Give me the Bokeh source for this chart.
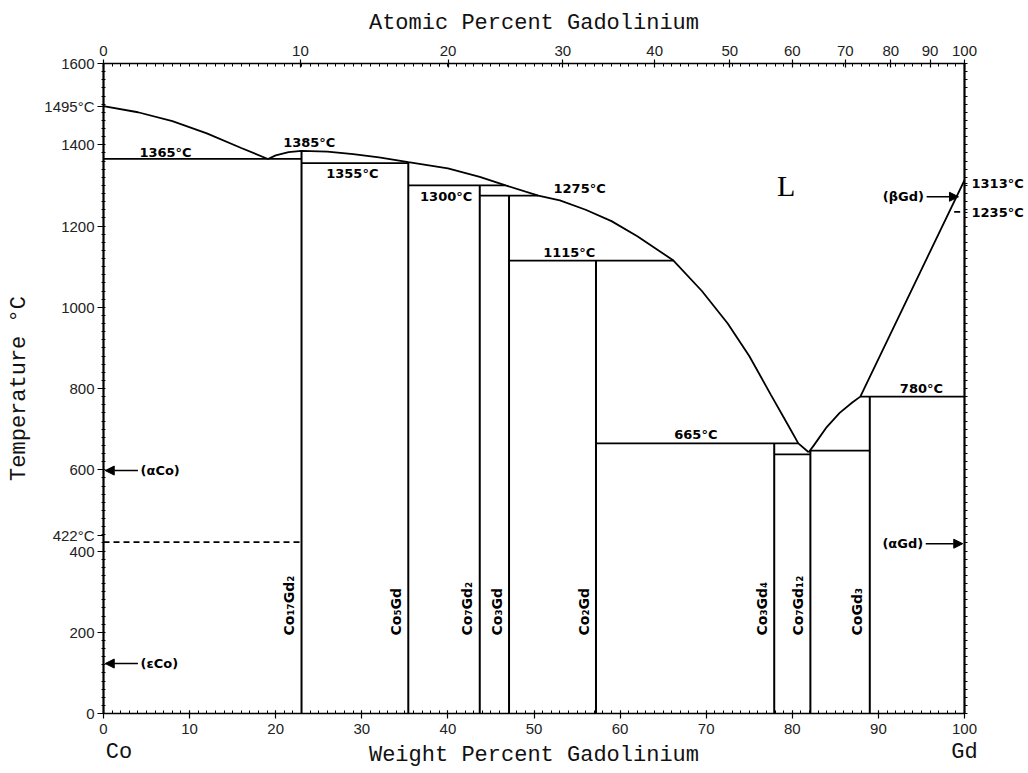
import math
from bokeh.plotting import figure
from bokeh.models import (Range1d, LinearAxis, FixedTicker, Label, LabelSet,
                          Arrow, NormalHead, ColumnDataSource)
from bokeh.embed import file_html
from bokeh.resources import INLINE
from bokeh.core.properties import value

# ---------------- data (wt% Gd, temperature in deg C) ----------------
liq_co_x = [0, 4, 8, 12, 16, 19.1]
liq_co_t = [1495, 1480, 1458, 1428, 1392, 1365]

liq_mid_x = [19.1, 20, 21.5, 23, 26, 29, 32, 35.4, 40, 43.7, 46.7, 50.5, 53, 56, 59,
             62, 66.2, 69.5, 72.5, 75, 77.5, 79.5, 80.7, 81.9]
liq_mid_t = [1365, 1374, 1382, 1385, 1383, 1377, 1369, 1357, 1342, 1321, 1300, 1275,
             1263, 1240, 1212, 1175, 1115, 1040, 960, 880, 785, 710, 665, 643]

liq_gd_x = [81.9, 82.5, 84, 85.5, 87, 87.9, 100]
liq_gd_t = [643, 660, 705, 740, 766, 780, 1313]

iso_t = [1365, 1355, 1300, 1275, 1115, 665, 638, 647, 780]
iso_x0 = [0, 23.0, 35.4, 43.7, 47.1, 57.2, 77.9, 82.1, 87.9]
iso_x1 = [23.0, 35.4, 46.7, 50.5, 66.2, 80.7, 82.1, 89.0, 100]

compounds = ["Co\u2081\u2087Gd\u2082", "Co\u2085Gd", "Co\u2087Gd\u2082", "Co\u2083Gd",
             "Co\u2082Gd", "Co\u2083Gd\u2084", "Co\u2087Gd\u2081\u2082", "CoGd\u2083"]
comp_x = [23.0, 35.4, 43.7, 47.1, 57.2, 77.9, 82.1, 89.0]
comp_top = [1385, 1357, 1300, 1275, 1115, 665, 647, 780]

dash_t = [422, 1235]
dash_x0 = [0, 98.8]
dash_x1 = [23.0, 100]

temp_text = ["1365\u00b0C", "1385\u00b0C", "1355\u00b0C", "1300\u00b0C", "1275\u00b0C",
             "1115\u00b0C", "665\u00b0C", "780\u00b0C"]
temp_x = [7.2, 23.9, 28.9, 39.8, 55.3, 54.1, 68.8, 95.0]
temp_y = [1381, 1406, 1329, 1273, 1292, 1135, 687, 800]

# temperatures written beside the frame (on the axes)
left_marks = {1495: "1495\u00b0C", 438: "422\u00b0C"}
right_marks = {1304: "1313\u00b0C", 1234: "1235\u00b0C"}

phase_text = ["(\u03b1Co)", "(\u03b5Co)", "(\u03b1Gd)", "(\u03b2Gd)"]
phase_x = [4.3, 4.3, 95.2, 95.3]
phase_y = [598, 123, 418, 1272]
phase_align = ["left", "left", "right", "right"]
arrow_x0 = [4.0, 4.0, 95.5, 95.6]
arrow_x1 = [0.2, 0.2, 99.8, 99.3]

wt_ticks = list(range(0, 101, 10))
wt_minor = list(range(0, 101, 1))
t_ticks = list(range(0, 1601, 200))
t_minor = list(range(0, 1601, 20))
at_ticks = list(range(0, 101, 10))
end_names = {1.8: "Co", 100: "Gd"}
M_GD, M_CO = 157.25, 58.933
at_pos = [100.0 * a * M_GD / (a * M_GD + (100 - a) * M_CO) for a in at_ticks]

# ---------------- figure ----------------
p = figure(width=1028, height=773, x_range=Range1d(0, 100), y_range=Range1d(0, 1600),
           output_backend="svg", toolbar_location=None,
           x_axis_location=None, y_axis_location=None,
           min_border_left=103, min_border_right=64, min_border_top=63, min_border_bottom=60)
p.grid.visible = False
p.outline_line_color = None
p.background_fill_color = "white"

TICK_FONT = "Liberation Sans"
TITLE_FONT = "Liberation Mono"
LBL_FONT = "DejaVu Sans"


def style(ax, lw=1.5):
    ax.axis_line_color = "black"
    ax.axis_line_width = lw
    ax.major_tick_line_color = "black"
    ax.minor_tick_line_color = "black"
    ax.major_tick_line_width = 1.2
    ax.minor_tick_line_width = 1
    ax.major_label_text_font = TICK_FONT
    ax.major_label_text_font_size = "15px"
    ax.major_label_text_color = "#222222"
    ax.axis_label_text_font = TITLE_FONT
    ax.axis_label_text_font_size = "22px"
    ax.axis_label_text_font_style = "normal"
    ax.axis_label_text_color = "#111111"


bottom = LinearAxis(ticker=FixedTicker(ticks=wt_ticks, minor_ticks=wt_minor))
style(bottom)
bottom.major_tick_out = 5
bottom.major_tick_in = 3
bottom.minor_tick_in = 3
bottom.minor_tick_out = 0
bottom.major_label_standoff = 5
p.add_layout(bottom, "below")

names = LinearAxis(ticker=FixedTicker(ticks=list(end_names.keys()), minor_ticks=[]),
                   axis_label="Weight Percent Gadolinium")
style(names)
names.axis_line_color = None
names.major_tick_line_color = None
names.minor_tick_line_color = None
names.major_tick_out = 0
names.major_tick_in = 0
names.major_label_overrides = end_names
names.major_label_text_font = TITLE_FONT
names.major_label_text_font_size = "22px"
names.major_label_text_color = "#111111"
names.major_label_standoff = 3
names.axis_label_standoff = -25
p.add_layout(names, "below")

top = LinearAxis(ticker=FixedTicker(ticks=at_pos, minor_ticks=wt_minor),
                 axis_label="Atomic Percent Gadolinium")
style(top)
top.major_label_overrides = {pos: str(a) for pos, a in zip(at_pos, at_ticks)}
top.major_tick_out = 4
top.major_tick_in = 4
top.minor_tick_in = 3
top.minor_tick_out = 0
top.major_label_standoff = 4
top.axis_label_standoff = 7
p.add_layout(top, "above")

left = LinearAxis(ticker=FixedTicker(ticks=t_ticks + list(left_marks.keys()), minor_ticks=t_minor),
                  axis_label="Temperature \u00b0C")
style(left, 2.2)
left.major_label_overrides = left_marks
left.major_tick_out = 6
left.major_tick_in = 0
left.minor_tick_in = 2
left.minor_tick_out = 2
left.major_label_standoff = 3
left.axis_label_standoff = 9
p.add_layout(left, "left")

right = LinearAxis(ticker=FixedTicker(ticks=list(right_marks.keys()), minor_ticks=t_minor))
style(right, 2.2)
right.major_label_overrides = right_marks
right.major_tick_out = 3
right.major_tick_in = 0
right.minor_tick_in = 0
right.minor_tick_out = 3
right.major_label_standoff = 4
right.major_label_text_font = LBL_FONT
right.major_label_text_font_size = "13px"
right.major_label_text_font_style = "bold"
right.major_label_text_color = "black"
p.add_layout(right, "right")

# ---------------- phase boundaries ----------------
LW = 1.8
p.line(liq_co_x, liq_co_t, line_color="black", line_width=LW)
p.line(liq_mid_x, liq_mid_t, line_color="black", line_width=LW)
p.line(liq_gd_x, liq_gd_t, line_color="black", line_width=LW)

iso_src = ColumnDataSource(dict(x0=iso_x0, x1=iso_x1, t=iso_t))
p.segment(x0="x0", y0="t", x1="x1", y1="t", source=iso_src, line_color="black", line_width=LW)

comp_src = ColumnDataSource(dict(x=comp_x, top=comp_top, bot=[0] * len(comp_x)))
p.segment(x0="x", y0="top", x1="x", y1="bot", source=comp_src, line_color="black", line_width=2)

dash_src = ColumnDataSource(dict(x0=dash_x0, x1=dash_x1, t=dash_t))
p.segment(x0="x0", y0="t", x1="x1", y1="t", source=dash_src, line_color="black",
          line_width=LW, line_dash="6 4")

# ---------------- labels ----------------
temp_src = ColumnDataSource(dict(x=temp_x, y=temp_y, text=temp_text))
p.add_layout(LabelSet(x="x", y="y", text="text", source=temp_src, text_align="center",
                      text_baseline="middle", text_font=value(LBL_FONT),
                      text_font_size="13px", text_font_style="bold", text_color="black"))

comp_lbl_src = ColumnDataSource(dict(x=[c - 0.85 for c in comp_x],
                                     y=[192] * len(comp_x), text=compounds))
p.add_layout(LabelSet(x="x", y="y", text="text", source=comp_lbl_src, angle=math.pi / 2,
                      text_align="left", text_baseline="alphabetic",
                      text_font=value(LBL_FONT), text_font_size="14px",
                      text_font_style="bold", text_color="black"))

for i in range(len(phase_text)):
    p.add_layout(Label(x=phase_x[i], y=phase_y[i], text=phase_text[i],
                       text_align=phase_align[i], text_baseline="middle",
                       text_font=LBL_FONT, text_font_size="13px",
                       text_font_style="bold", text_color="black"))
    p.add_layout(Arrow(end=NormalHead(size=9, fill_color="black", line_color="black"),
                       x_start=arrow_x0[i], y_start=phase_y[i],
                       x_end=arrow_x1[i], y_end=phase_y[i],
                       line_color="black", line_width=1.5))

p.add_layout(Label(x=79.3, y=1300, text="L", text_align="center", text_baseline="middle",
                   text_font="Liberation Serif", text_font_size="30px", text_color="black"))

open("out.html", "w").write(file_html(p, INLINE))
